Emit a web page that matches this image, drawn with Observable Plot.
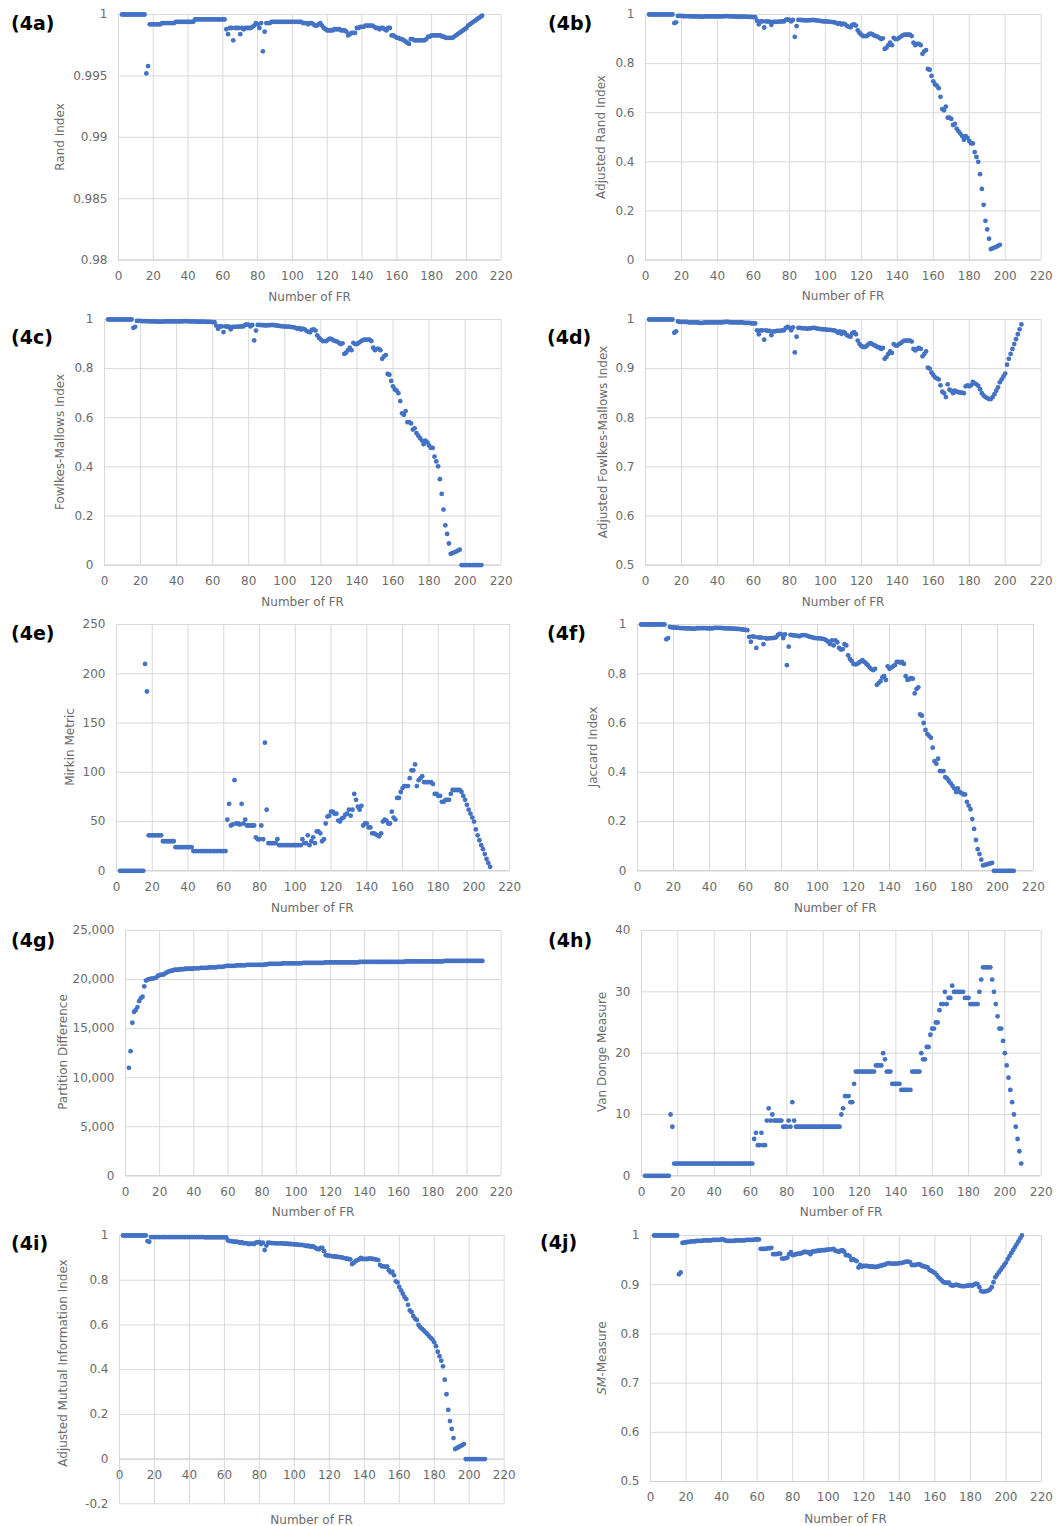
<!DOCTYPE html>
<html><head><meta charset="utf-8">
<script src="https://cdn.jsdelivr.net/npm/d3@7"></script>
<script src="https://cdn.jsdelivr.net/npm/@observablehq/plot@0.6"></script>
<style>
body{margin:0;background:#fff;}
#page{position:relative;width:1056px;height:1526px;overflow:hidden;font-family:"DejaVu Sans",sans-serif;background:#fff;}
.lab{position:absolute;font-weight:bold;font-size:19px;color:#000;line-height:1;transform:translateY(-50%);white-space:nowrap;}
.yt{position:absolute;font-size:12px;color:#6b6b6b;white-space:nowrap;transform:translate(-50%,-50%) rotate(-90deg);}
.xt{position:absolute;font-size:12px;color:#6b6b6b;white-space:nowrap;transform:translate(-50%,-50%);}
.panel{position:absolute;}
</style></head><body><div id="page"></div>
<script>
// Number of FR (x values)
const fr = d3.range(2, 210);
const xTicks = [0,20,40,60,80,100,120,140,160,180,200,220];

const randIndex = [
1,1,1,1,1,1,1,1,1,1,
1,1,1,1,0.9952,0.9958,0.9992,0.9992,0.9992,0.9992,
0.9992,0.9992,0.9992,0.9993,0.9993,0.9993,0.9993,0.9993,0.9993,0.9993,
0.9993,0.9994,0.9994,0.9994,0.9994,0.9994,0.9994,0.9994,0.9994,0.9994,
0.9994,0.9994,0.9996,0.9996,0.9996,0.9996,0.9996,0.9996,0.9996,0.9996,
0.9996,0.9996,0.9996,0.9996,0.9996,0.9996,0.9996,0.9996,0.9996,0.9996,
0.9988,0.9984,0.9989,0.9989,0.9979,0.9989,0.9989,0.9989,0.9984,0.9989,
0.9988,0.9989,0.9989,0.9989,0.9989,0.999,0.9991,0.9993,0.9992,0.9989,
0.9993,0.997,0.9986,0.9993,0.9993,0.9993,0.9994,0.9994,0.9994,0.9994,
0.9994,0.9994,0.9994,0.9994,0.9994,0.9994,0.9994,0.9994,0.9994,0.9994,
0.9994,0.9994,0.9994,0.9994,0.9993,0.9993,0.9993,0.9992,0.9993,0.9993,
0.9992,0.9991,0.9991,0.9992,0.9993,0.9991,0.9989,0.9988,0.9987,0.9987,
0.9987,0.9987,0.9988,0.9988,0.9988,0.9988,0.9987,0.9987,0.9987,0.9986,
0.9983,0.9984,0.9985,0.9985,0.9985,0.9989,0.9989,0.999,0.999,0.999,
0.9991,0.9991,0.9991,0.9991,0.9991,0.999,0.9989,0.9989,0.9988,0.9989,
0.9989,0.9988,0.9987,0.9989,0.9989,0.9983,0.9983,0.9982,0.9981,0.9981,
0.998,0.998,0.9979,0.9978,0.9977,0.9976,0.998,0.998,0.9979,0.9979,
0.9979,0.9979,0.9979,0.9979,0.9979,0.998,0.9982,0.9982,0.9983,0.9983,
0.9983,0.9983,0.9983,0.9983,0.9982,0.9982,0.9981,0.9981,0.9981,0.9981,
0.9981,0.9982,0.9983,0.9984,0.9985,0.9986,0.9987,0.9988,0.9989,0.9991,
0.9992,0.9993,0.9994,0.9995,0.9996,0.9997,0.9998,0.9999];

const adjRandIndex = [
1,1,1,1,1,1,1,1,1,1,
1,1,1,1,0.965,0.968,0.994,0.994,0.994,0.993,
0.993,0.993,0.993,0.992,0.992,0.992,0.992,0.992,0.991,0.991,
0.991,0.992,0.992,0.992,0.992,0.992,0.992,0.992,0.992,0.992,
0.992,0.992,0.993,0.993,0.993,0.992,0.992,0.992,0.992,0.991,
0.991,0.991,0.991,0.991,0.991,0.990,0.990,0.990,0.989,0.989,
0.975,0.960,0.972,0.972,0.947,0.972,0.971,0.971,0.958,0.970,
0.970,0.970,0.971,0.971,0.972,0.972,0.978,0.980,0.978,0.972,
0.978,0.909,0.953,0.978,0.978,0.977,0.977,0.976,0.976,0.977,
0.977,0.978,0.977,0.976,0.975,0.974,0.973,0.972,0.972,0.971,
0.971,0.970,0.969,0.968,0.966,0.962,0.965,0.959,0.963,0.960,
0.954,0.950,0.948,0.958,0.960,0.955,0.935,0.925,0.918,0.912,
0.912,0.912,0.918,0.922,0.920,0.915,0.912,0.910,0.905,0.900,
0.903,0.860,0.865,0.875,0.885,0.875,0.905,0.900,0.900,0.905,
0.910,0.915,0.918,0.918,0.918,0.918,0.912,0.885,0.875,0.880,
0.880,0.875,0.840,0.850,0.855,0.778,0.775,0.750,0.728,0.715,
0.710,0.700,0.665,0.615,0.610,0.625,0.580,0.580,0.575,0.550,
0.555,0.535,0.525,0.515,0.505,0.490,0.505,0.498,0.485,0.475,
0.475,0.440,0.420,0.400,0.350,0.290,0.225,0.160,0.125,0.087,
0.045,0.048,0.051,0.054,0.058,0.062,null,null,null,null,
null,null,null,null,null,null,null,null];

const fowlkesMallows = [
1,1,1,1,1,1,1,1,1,1,
1,1,1,1,0.966,0.970,0.994,0.994,0.994,0.993,
0.993,0.993,0.993,0.992,0.992,0.992,0.992,0.992,0.991,0.991,
0.991,0.992,0.992,0.992,0.992,0.992,0.992,0.992,0.992,0.992,
0.992,0.992,0.993,0.993,0.993,0.992,0.992,0.992,0.992,0.991,
0.991,0.991,0.991,0.991,0.991,0.990,0.990,0.990,0.989,0.989,
0.975,0.962,0.972,0.972,0.949,0.972,0.971,0.971,0.960,0.970,
0.970,0.970,0.971,0.971,0.972,0.972,0.978,0.980,0.978,0.972,
0.978,0.915,0.955,0.978,0.978,0.977,0.977,0.976,0.976,0.977,
0.977,0.978,0.977,0.976,0.975,0.974,0.973,0.972,0.972,0.971,
0.971,0.970,0.969,0.968,0.966,0.962,0.965,0.959,0.963,0.960,
0.954,0.950,0.948,0.958,0.960,0.955,0.935,0.925,0.918,0.912,
0.912,0.912,0.918,0.922,0.920,0.915,0.912,0.910,0.905,0.900,
0.903,0.860,0.865,0.875,0.885,0.875,0.905,0.900,0.900,0.905,
0.910,0.915,0.918,0.918,0.918,0.918,0.912,0.885,0.875,0.880,
0.880,0.875,0.840,0.850,0.855,0.778,0.775,0.750,0.728,0.715,
0.710,0.700,0.668,0.618,0.612,0.627,0.582,0.582,0.577,0.552,
0.557,0.537,0.527,0.517,0.507,0.492,0.507,0.500,0.487,0.477,
0.477,0.442,0.422,0.402,0.350,0.290,0.226,0.162,0.127,0.088,
0.046,0.049,0.052,0.055,0.059,0.063,0,0,0,0,
0,0,0,0,0,0,0,0];

const adjFowlkesMallows = [
1,1,1,1,1,1,1,1,1,1,
1,1,1,1,0.973,0.976,0.996,0.995,0.995,0.995,
0.995,0.995,0.994,0.994,0.994,0.994,0.994,0.994,0.993,0.993,
0.993,0.994,0.994,0.994,0.994,0.994,0.994,0.994,0.994,0.994,
0.994,0.994,0.995,0.995,0.995,0.994,0.994,0.994,0.994,0.994,
0.994,0.994,0.994,0.993,0.993,0.993,0.993,0.992,0.992,0.992,
0.978,0.970,0.978,0.978,0.959,0.978,0.977,0.977,0.968,0.976,
0.976,0.977,0.977,0.977,0.978,0.978,0.983,0.985,0.983,0.978,
0.984,0.933,0.965,0.983,0.983,0.982,0.982,0.982,0.981,0.982,
0.982,0.983,0.983,0.982,0.981,0.981,0.980,0.980,0.980,0.979,
0.979,0.979,0.978,0.978,0.976,0.973,0.976,0.971,0.975,0.972,
0.968,0.966,0.965,0.972,0.974,0.970,0.957,0.950,0.946,0.944,
0.944,0.946,0.950,0.952,0.950,0.948,0.946,0.944,0.943,0.940,
0.942,0.920,0.924,0.930,0.935,0.932,0.950,0.947,0.947,0.950,
0.952,0.955,0.957,0.957,0.957,0.957,0.955,0.940,0.937,0.940,
0.942,0.940,0.925,0.930,0.935,0.902,0.900,0.892,0.887,0.882,
0.880,0.878,0.866,0.853,0.850,0.842,0.868,0.857,0.855,0.850,
0.855,0.853,0.852,0.851,0.851,0.850,0.864,0.866,0.864,0.866,
0.873,0.870,0.868,0.865,0.858,0.850,0.845,0.842,0.840,0.838,
0.838,0.842,0.848,0.855,0.862,0.872,0.878,0.884,0.890,0.908,
0.920,0.930,0.940,0.950,0.960,0.970,0.980,0.990];

const mirkin = [
0,0,0,0,0,0,0,0,0,0,
0,0,0,0,210,182,36,36,36,36,
36,36,36,36,30,30,30,30,30,30,
30,24,24,24,24,24,24,24,24,24,
24,20,20,20,20,20,20,20,20,20,
20,20,20,20,20,20,20,20,20,20,
52,68,46,47,92,48,48,47,68,48,
52,46,46,46,46,46,34,32,32,46,
32,130,62,28,28,28,28,28,32,26,
26,26,26,26,26,26,26,26,26,26,
26,26,32,28,28,36,26,30,34,28,
40,40,38,30,32,48,55,56,60,60,
58,58,51,50,53,54,57,58,62,56,
62,78,72,65,62,66,46,48,48,44,
44,38,38,37,36,35,38,50,52,51,
48,48,60,54,52,74,74,80,84,86,
86,86,94,102,102,108,86,92,94,96,
90,90,90,90,90,88,78,78,76,76,
70,70,72,72,72,78,82,82,82,82,
82,80,76,72,67,62,58,54,50,42,
36,31,26,22,17,12,8,4];

const jaccard = [
1,1,1,1,1,1,1,1,1,1,
1,1,1,1,0.940,0.945,0.990,0.988,0.988,0.987,
0.987,0.986,0.985,0.985,0.985,0.984,0.984,0.984,0.983,0.983,
0.983,0.985,0.985,0.985,0.985,0.985,0.985,0.984,0.984,0.984,
0.985,0.986,0.986,0.986,0.986,0.985,0.985,0.984,0.984,0.984,
0.983,0.983,0.983,0.982,0.982,0.981,0.980,0.979,0.978,0.977,
0.950,0.930,0.952,0.950,0.905,0.948,0.947,0.947,0.920,0.945,
0.943,0.944,0.945,0.945,0.946,0.948,0.958,0.962,0.960,0.945,
0.960,0.835,0.910,0.958,0.956,0.956,0.955,0.954,0.952,0.956,
0.957,0.957,0.955,0.952,0.950,0.948,0.946,0.945,0.944,0.944,
0.943,0.942,0.940,0.935,0.930,0.920,0.935,0.915,0.935,0.928,
0.905,0.898,0.900,0.920,0.915,0.875,0.860,0.852,0.840,0.838,
0.840,0.845,0.850,0.855,0.848,0.842,0.835,0.825,0.818,0.815,
0.820,0.755,0.762,0.770,0.785,0.790,0.775,0.830,0.820,0.825,
0.830,0.835,0.848,0.848,0.845,0.848,0.840,0.790,0.775,0.778,
0.782,0.780,0.720,0.738,0.745,0.635,0.630,0.600,0.572,0.555,
0.548,0.540,0.500,0.445,0.435,0.455,0.405,0.405,0.405,0.380,
0.375,0.365,0.355,0.345,0.335,0.320,0.335,0.320,0.315,0.310,
0.310,0.280,0.265,0.250,0.210,0.170,0.125,0.088,0.068,0.045,
0.022,0.024,0.026,0.028,0.030,0.032,0,0,0,0,
0,0,0,0,0,0,0,0];

const partitionDiff = [
11000,12700,15600,16700,16900,17200,17800,18100,18250,19300,
19900,20000,20050,20100,20100,20150,20200,20400,20450,20500,
20500,20600,20700,20800,20850,20900,20950,21000,21000,21000,
21050,21050,21050,21100,21100,21100,21100,21100,21150,21150,
21150,21150,21200,21200,21200,21200,21200,21250,21250,21250,
21250,21250,21300,21300,21300,21300,21350,21400,21400,21400,
21400,21400,21400,21450,21450,21450,21450,21450,21450,21500,
21500,21500,21500,21500,21500,21500,21500,21500,21500,21500,
21550,21550,21600,21600,21600,21600,21600,21600,21600,21600,
21650,21650,21650,21650,21650,21650,21650,21650,21650,21650,
21650,21650,21700,21700,21700,21700,21700,21700,21700,21700,
21700,21700,21700,21700,21700,21750,21750,21750,21750,21750,
21750,21750,21750,21750,21750,21750,21750,21750,21750,21750,
21750,21750,21750,21750,21750,21800,21800,21800,21800,21800,
21800,21800,21800,21800,21800,21800,21800,21800,21800,21800,
21800,21800,21800,21800,21800,21800,21800,21800,21800,21800,
21800,21800,21850,21850,21850,21850,21850,21850,21850,21850,
21850,21850,21850,21850,21850,21850,21850,21850,21850,21850,
21850,21850,21850,21850,21850,21900,21900,21900,21900,21900,
21900,21900,21900,21900,21900,21900,21900,21900,21900,21900,
21900,21900,21900,21900,21900,21900,21900,21900];

const vanDongen = [
0,0,0,0,0,0,0,0,0,0,
0,0,0,0,10,8,2,2,2,2,
2,2,2,2,2,2,2,2,2,2,
2,2,2,2,2,2,2,2,2,2,
2,2,2,2,2,2,2,2,2,2,
2,2,2,2,2,2,2,2,2,2,
6,7,5,5,7,5,5,9,11,9,
10,9,9,9,9,9,8,8,8,9,
8,12,9,8,8,8,8,8,8,8,
8,8,8,8,8,8,8,8,8,8,
8,8,8,8,8,8,8,8,10,11,
13,13,13,12,12,15,17,17,17,17,
17,17,17,17,17,17,17,18,18,18,
18,20,19,17,17,17,15,15,15,15,
15,14,14,14,14,14,14,17,17,17,
17,17,20,19,19,21,21,23,24,24,
25,25,27,28,28,30,28,29,29,31,
30,30,30,30,30,30,29,29,29,28,
28,28,28,28,30,32,34,34,34,34,
34,32,30,28,26,24,24,22,20,18,
16,14,12,10,8,6,4,2];

const adjMutualInfo = [
1,1,1,1,1,1,1,1,1,1,
1,1,1,1,0.975,0.972,0.993,0.993,0.993,0.993,
0.993,0.993,0.993,0.993,0.993,0.993,0.993,0.993,0.993,0.993,
0.993,0.993,0.993,0.993,0.993,0.993,0.993,0.993,0.993,0.993,
0.993,0.993,0.993,0.993,0.993,0.993,0.993,0.992,0.992,0.992,
0.992,0.992,0.992,0.992,0.992,0.992,0.992,0.992,0.992,0.992,
0.978,0.975,0.975,0.973,0.972,0.972,0.970,0.968,0.970,0.965,
0.966,0.965,0.962,0.963,0.963,0.962,0.968,0.970,0.970,0.962,
0.968,0.935,0.955,0.968,0.967,0.966,0.966,0.965,0.965,0.965,
0.965,0.965,0.964,0.963,0.963,0.962,0.962,0.961,0.960,0.960,
0.959,0.958,0.958,0.957,0.955,0.953,0.955,0.950,0.952,0.950,
0.945,0.940,0.938,0.945,0.945,0.930,0.912,0.910,0.910,0.908,
0.907,0.906,0.905,0.904,0.903,0.902,0.900,0.898,0.896,0.895,
0.893,0.872,0.878,0.885,0.890,0.893,0.900,0.895,0.895,0.895,
0.895,0.898,0.896,0.895,0.894,0.892,0.890,0.868,0.862,0.862,
0.860,0.862,0.845,0.835,0.838,0.822,0.795,0.790,0.770,0.755,
0.740,0.725,0.715,0.690,0.665,0.658,0.640,0.628,0.622,0.600,
0.590,0.582,0.575,0.567,0.560,0.550,0.542,0.535,0.522,0.505,
0.480,0.460,0.440,0.415,0.355,0.290,0.220,0.170,0.135,0.094,
0.045,0.050,0.054,0.058,0.062,0.067,0,0,0,0,
0,0,0,0,0,0,0,0];

const smMeasure = [
1,1,1,1,1,1,1,1,1,1,
1,1,1,1,0.921,0.925,0.985,0.986,0.986,0.987,
0.987,0.988,0.988,0.988,0.989,0.989,0.989,0.989,0.990,0.990,
0.990,0.990,0.990,0.991,0.991,0.991,0.991,0.991,0.992,0.992,
0.990,0.989,0.989,0.989,0.989,0.989,0.990,0.990,0.990,0.990,
0.990,0.990,0.991,0.991,0.991,0.991,0.991,0.992,0.992,0.992,
0.973,0.973,0.973,0.973,0.974,0.974,0.975,0.962,0.962,0.962,
0.963,0.963,0.953,0.953,0.954,0.955,0.962,0.966,0.960,0.961,
0.962,0.963,0.963,0.964,0.966,0.967,0.966,0.966,0.962,0.967,
0.968,0.968,0.969,0.969,0.970,0.970,0.970,0.971,0.971,0.972,
0.972,0.973,0.969,0.968,0.967,0.969,0.970,0.967,0.960,0.960,
0.958,0.950,0.952,0.950,0.948,0.935,0.940,0.937,0.938,0.938,
0.938,0.937,0.937,0.937,0.936,0.936,0.937,0.938,0.939,0.940,
0.941,0.943,0.944,0.943,0.943,0.943,0.943,0.943,0.944,0.944,
0.945,0.946,0.947,0.947,0.946,0.940,0.940,0.940,0.941,0.942,
0.940,0.938,0.937,0.936,0.935,0.930,0.928,0.926,0.924,0.920,
0.915,0.912,0.908,0.905,0.904,0.904,0.904,0.899,0.898,0.899,
0.900,0.899,0.898,0.897,0.897,0.897,0.898,0.898,0.899,0.898,
0.900,0.902,0.901,0.895,0.887,0.886,0.886,0.887,0.888,0.890,
0.895,0.905,0.915,0.920,0.925,0.930,0.935,0.940,0.945,0.952,
0.958,0.964,0.970,0.976,0.982,0.988,0.994,1.0];

const ticksRand = [0.98,0.985,0.99,0.995,1];
const ticksUnit = [0,0.2,0.4,0.6,0.8,1];
const ticksHalf = [0.5,0.6,0.7,0.8,0.9,1];
const ticksMirkin = [0,50,100,150,200,250];
const ticksPD = [0,5000,10000,15000,20000,25000];
const ticksVD = [0,10,20,30,40];
const ticksAMI = [-0.2,0,0.2,0.4,0.6,0.8,1];

const fmtNum = d => String(d);
const fmtComma = d3.format(",");

const panels = [
 {lab:"(4a)", title:"Rand Index", values:randIndex, dom:[0.98,1], ticks:ticksRand, fmt:fmtNum,
  L:118.3,R:501,T:13.7,B:259.3, ytx:60, xty:297, lx:11, ly:23},
 {lab:"(4b)", title:"Adjusted Rand Index", values:adjRandIndex, dom:[0,1], ticks:ticksUnit, fmt:fmtNum,
  L:645.3,R:1041,T:13.7,B:259.3, ytx:601, xty:296, lx:548, ly:23},
 {lab:"(4c)", title:"Fowlkes-Mallows Index", values:fowlkesMallows, dom:[0,1], ticks:ticksUnit, fmt:fmtNum,
  L:104.3,R:501,T:318.7,B:564.3, ytx:60, xty:602, lx:11, ly:337},
 {lab:"(4d)", title:"Adjusted Fowlkes-Mallows Index", values:adjFowlkesMallows, dom:[0.5,1], ticks:ticksHalf, fmt:fmtNum,
  L:645.3,R:1041,T:318.7,B:564.3, ytx:603, xty:602, lx:547, ly:337},
 {lab:"(4e)", title:"Mirkin Metric", values:mirkin, dom:[0,250], ticks:ticksMirkin, fmt:fmtNum,
  L:115.7,R:509,T:623.7,B:870, ytx:70, xty:908, lx:11, ly:633},
 {lab:"(4f)", title:"Jaccard Index", values:jaccard, dom:[0,1], ticks:ticksUnit, fmt:fmtNum,
  L:637.3,R:1033.3,T:623.7,B:870, ytx:593, xty:908, lx:547, ly:633},
 {lab:"(4g)", title:"Partition Difference", values:partitionDiff, dom:[0,25000], ticks:ticksPD, fmt:fmtComma,
  L:125.3,R:501,T:929.7,B:1175, ytx:63, xty:1212, lx:11, ly:940},
 {lab:"(4h)", title:"Van Donge Measure", values:vanDongen, dom:[0,40], ticks:ticksVD, fmt:fmtNum,
  L:641.3,R:1041,T:929.7,B:1175, ytx:602, xty:1212, lx:548, ly:940},
 {lab:"(4i)", title:"Adjusted Mutual Information Index", values:adjMutualInfo, dom:[-0.2,1], ticks:ticksAMI, fmt:fmtNum, base:0,
  L:119.3,R:504,T:1235,B:1503.3, ytx:63, yty:1363, xty:1520, lx:11, ly:1243},
 {lab:"(4j)", title:"<i>SM</i>-Measure", values:smMeasure, dom:[0.5,1], ticks:ticksHalf, fmt:fmtNum,
  L:650,R:1041,T:1234.7,B:1480.7, ytx:602, xty:1519, lx:540, ly:1242}
];

const page = document.getElementById("page");
const GRID = "#d9d9d9", TXT = "#6b6b6b", DOT = "#4472C4";

for (const p of panels) {
  const ml = 70, mr = 12, mt = 8, mb = 30;
  const W = Math.round(p.R - p.L + ml + mr), H = Math.round(p.B - p.T + mt + mb);
  const base = p.base ?? p.dom[0];
  const rows = fr.map((x, i) => ({x, y: p.values[i]})).filter(d => d.y != null);
  const svg = Plot.plot({
    width: W, height: H,
    marginLeft: ml, marginRight: W - ml - (p.R - p.L), marginTop: mt, marginBottom: H - mt - (p.B - p.T),
    x: {domain: [0, 220], axis: null},
    y: {domain: p.dom, axis: null},
    style: {fontFamily: '"DejaVu Sans", sans-serif', fontSize: "12px", color: TXT, background: "none", overflow: "visible"},
    marks: [
      Plot.gridX(xTicks, {stroke: GRID, strokeOpacity: 1, strokeWidth: 1}),
      Plot.gridY(p.ticks, {stroke: GRID, strokeOpacity: 1, strokeWidth: 1}),
      Plot.ruleY([base], {stroke: "#cfcfcf", strokeWidth: 1}),
      Plot.axisY(p.ticks, {tickSize: 0, tickPadding: 11, tickFormat: p.fmt, label: null, fontSize: 12, color: TXT}),
      Plot.text(xTicks, {x: d => d, y: () => base, text: d => String(d), dy: 16, fill: TXT, fontSize: 12, lineAnchor: "middle"}),
      Plot.dot(rows, {x: "x", y: "y", r: 2.4, fill: DOT, stroke: "none"})
    ]
  });
  const wrap = document.createElement("div");
  wrap.className = "panel";
  wrap.style.left = (p.L - ml) + "px";
  wrap.style.top = (p.T - mt) + "px";
  wrap.appendChild(svg);
  page.appendChild(wrap);

  const lab = document.createElement("div");
  lab.className = "lab"; lab.textContent = p.lab;
  lab.style.left = p.lx + "px"; lab.style.top = p.ly + "px";
  page.appendChild(lab);

  const yt = document.createElement("div");
  yt.className = "yt"; yt.innerHTML = p.title;
  yt.style.left = p.ytx + "px"; yt.style.top = (p.yty ?? (p.T + p.B) / 2) + "px";
  page.appendChild(yt);

  const xt = document.createElement("div");
  xt.className = "xt"; xt.textContent = "Number of FR";
  xt.style.left = ((p.L + p.R) / 2) + "px"; xt.style.top = p.xty + "px";
  page.appendChild(xt);
}
</script>
</body></html>
